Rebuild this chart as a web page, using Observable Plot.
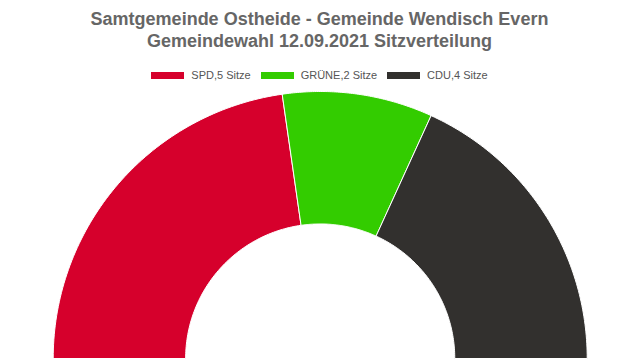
<!DOCTYPE html>
<html>
<head>
<meta charset="utf-8">
<script src="https://cdn.jsdelivr.net/npm/d3@7"></script>
<script src="https://cdn.jsdelivr.net/npm/@observablehq/plot@0.6"></script>
<style>
  html, body { margin: 0; padding: 0; background: #fff; }
  body { width: 639px; height: 359px; position: relative; overflow: hidden; font-family: "Liberation Sans", Arial, sans-serif; }
  #title { position: absolute; left: 0; top: 8px; width: 639px; text-align: center; font-weight: bold; font-size: 18px; line-height: 22px; color: #666666; }
  #legend { position: absolute; left: 0; top: 68px; width: 639px; display: flex; justify-content: center; align-items: center; font-size: 11px; line-height: 14px; color: #555555; }
  .item { display: flex; align-items: center; margin: 0 5px; }
  .sw { width: 33px; height: 7px; margin-right: 7px; }
  #chart { position: absolute; left: 0; top: 85px; }
</style>
</head>
<body>
<div id="title"></div>
<div id="legend"></div>
<div id="chart"></div>
<script>
const titleLines = ["Samtgemeinde Ostheide - Gemeinde Wendisch Evern", "Gemeindewahl 12.09.2021 Sitzverteilung"];
const parties = ["SPD", "GRÜNE", "CDU"];
const seats = [5, 2, 4];
const colors = ["#d6002c", "#33cc00", "#32302e"];
const legendLabels = parties.map((p, i) => `${p},${seats[i]} Sitze`);

document.getElementById("title").innerHTML = titleLines.map(t => `<div>${t}</div>`).join("");
document.getElementById("legend").innerHTML = parties.map((p, i) =>
  `<div class="item"><div class="sw" style="background:${colors[i]}"></div><span>${legendLabels[i]}</span></div>`).join("");

// build semicircular donut slice outlines (data units: outer radius 1)
const inner = 0.504;
const total = d3.sum(seats);
const rows = [];
let cum = 0;
parties.forEach((p, i) => {
  const a0 = Math.PI * (1 - cum / total);
  cum += seats[i];
  const a1 = Math.PI * (1 - cum / total);
  const N = 80;
  const pts = [];
  for (let k = 0; k <= N; k++) { const a = a0 + (a1 - a0) * k / N; pts.push([Math.cos(a), Math.sin(a)]); }
  for (let k = N; k >= 0; k--) { const a = a0 + (a1 - a0) * k / N; pts.push([inner * Math.cos(a), inner * Math.sin(a)]); }
  pts.push(pts[0]);
  pts.forEach(([x, y]) => rows.push({party: p, x, y}));
});

const chart = Plot.plot({
  width: 639,
  height: 274,
  margin: 0,
  x: {domain: [-1, 1], range: [52.7, 586.7], axis: null},
  y: {domain: [0, 1], range: [273, 6], axis: null},
  color: {domain: parties, range: colors},
  marks: [
    Plot.line(rows, {x: "x", y: "y", z: "party", fill: "party", stroke: "white", strokeWidth: 1, curve: "linear"})
  ]
});
document.getElementById("chart").appendChild(chart);
</script>
</body>
</html>
